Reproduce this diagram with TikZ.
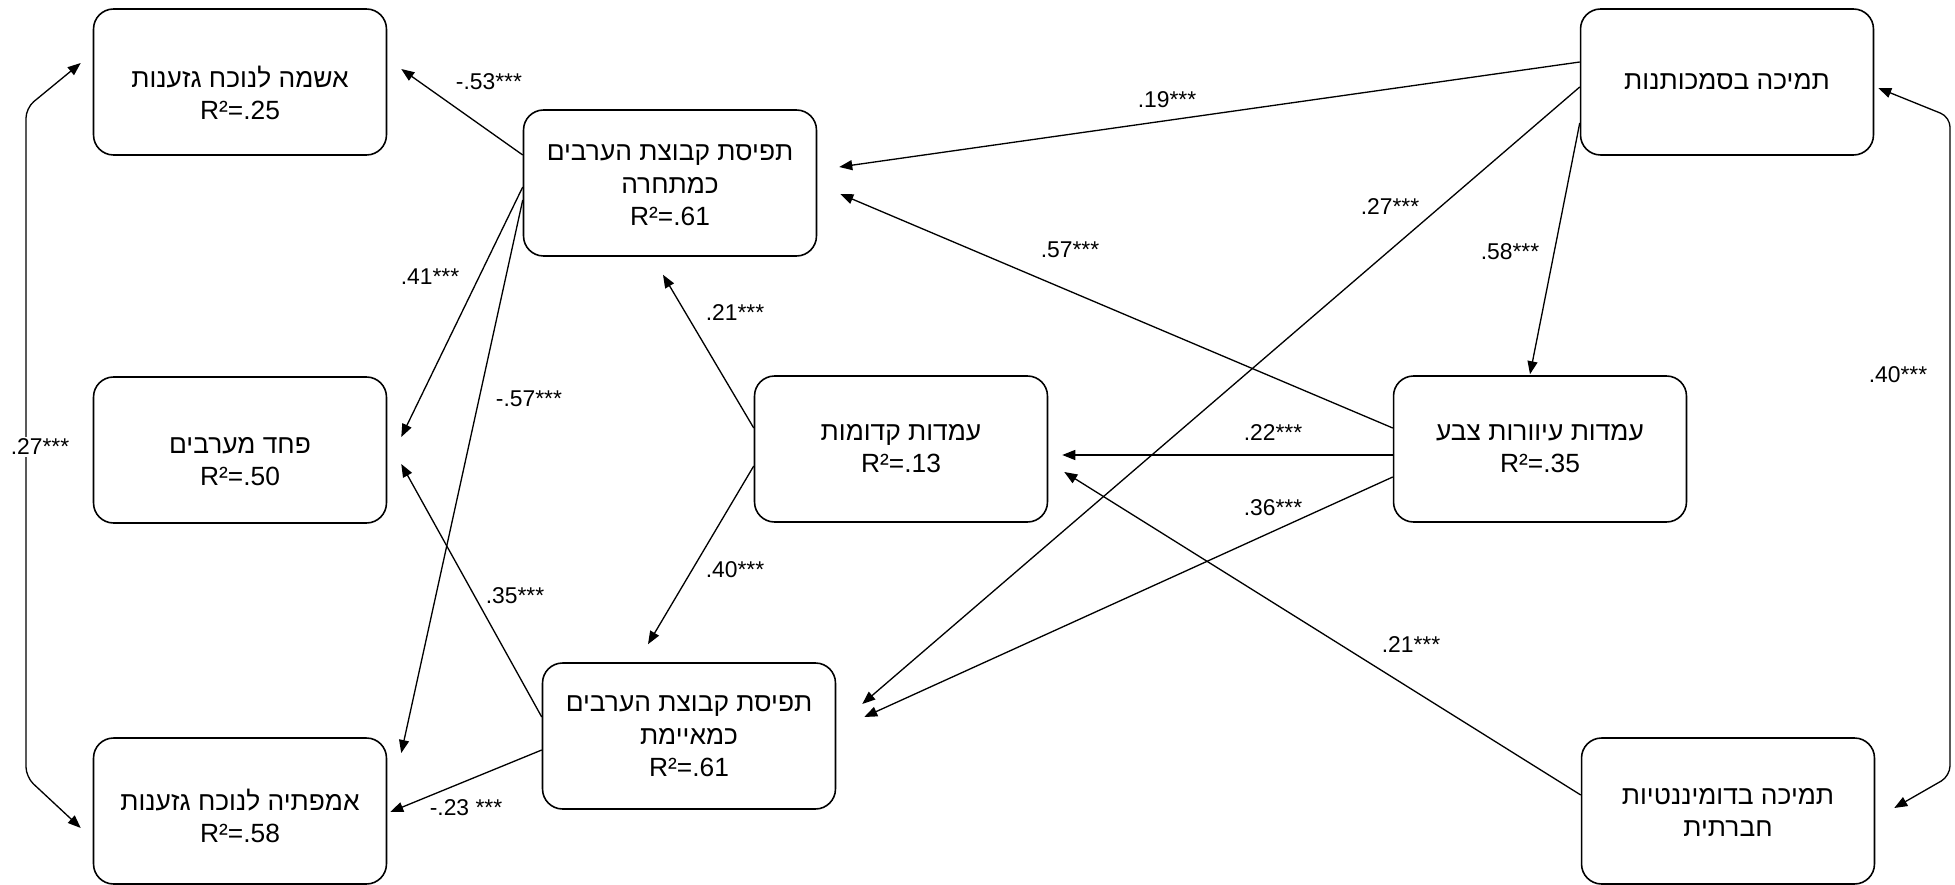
\documentclass[tikz,border=0pt]{standalone}
\usepackage{fontspec}
\setmainfont{Liberation Sans}
\newfontfamily\hebfont[Script=Hebrew]{Liberation Sans}
\TeXXeTstate=1
\newcommand{\heb}[1]{{\hebfont\beginR #1\endR}}
\usetikzlibrary{arrows.meta,calc}

\begin{document}
\begin{tikzpicture}[x=0.02cm,y=-0.02cm,
    var/.style={draw,line width=0.9pt,rounded corners=0.4cm,minimum width=5.86cm,
      minimum height=2.92cm,inner sep=0pt,align=center,font=\fontsize{15}{18.5}\selectfont},
    lastline/.style={text height=#1,text depth=0pt},
    coef/.style={font=\fontsize{13}{15}\selectfont,inner sep=1pt},
    arr/.style={line width=0.75pt,-{Triangle[length=0.26cm,width=0.2cm]}},
    dbl/.style={line width=0.75pt,rounded corners=0.2cm,
      {Triangle[length=0.26cm,width=0.2cm]}-{Triangle[length=0.26cm,width=0.2cm]}}]
      \useasboundingbox (0,0) rectangle (1955,885);
      \draw
        (240,82) node[var,lastline=43pt] (guilt){\heb{אשמה לנוכח גזענות}\\R²=.25}
        (670,183) node[var,lastline=48.8pt] (compete){\heb{תפיסת קבוצת הערבים}\\\heb{כמתחרה}\\R²=.61}
        (240,450) node[var,lastline=40.8pt] (fear){\heb{פחד מערבים}\\R²=.50}
        (901,449) node[var,lastline=27.2pt] (prej){\heb{עמדות קדומות}\\R²=.13}
        (1540,449) node[var,lastline=27.2pt] (cblind){\heb{עמדות עיוורות צבע}\\R²=.35}
        (1727,82) node[var,lastline=8pt] (auth){\heb{תמיכה בסמכותנות}}
        (689,736) node[var,lastline=46.5pt] (threat){\heb{תפיסת קבוצת הערבים}\\\heb{כמאיימת}\\R²=.61}
        (240,811) node[var,lastline=36.3pt] (empathy){\heb{אמפתיה לנוכח גזענות}\\R²=.58}
        (1728,811) node[var,lastline=29.5pt] (sdo){\heb{תמיכה בדומיננטיות}\\\heb{חברתית}};
      \draw
        (489,82) node[coef] (c1){-.53***}
        (430,277) node[coef] (c2){.41***}
        (529,399) node[coef] (c3){-.57***}
        (515,596) node[coef] (c4){.35***}
        (466,808) node[coef] (c5){-.23 ***}
        (735,313) node[coef] (c6){.21***}
        (735,570) node[coef] (c7){.40***}
        (1167,100) node[coef] (c8){.19***}
        (1390,207) node[coef] (c9){.27***}
        (1510,252) node[coef] (c10){.58***}
        (1070,250) node[coef] (c11){.57***}
        (1273,433) node[coef] (c12){.22***}
        (1273,508) node[coef] (c13){.36***}
        (1411,645) node[coef] (c14){.21***}
        (1898,375) node[coef] (c16){.40***};
      \begin{scope}[arr]
        \draw ($(compete.west)+(0,-28)$) to ($(guilt.east)+(14,-13)$);
        \draw ($(compete.west)+(0,4)$) to ($(fear.east)+(14,-13)$);
        \draw ($(compete.west)+(0,17)$) to ($(empathy.east)+(14,-58)$);
        \draw ($(threat.west)+(0,-19)$) to ($(fear.east)+(14,14)$);
        \draw ($(threat.west)+(0,14)$) to ($(empathy.east)+(3,1)$);
        \draw ($(prej.west)+(0,-21)$) to ($(compete.south)+(-7,18)$);
        \draw ($(prej.west)+(0,17)$) to ($(threat.north)+(-41,-18)$);
        \draw ($(auth.west)+(0,-20)$) to ($(compete.east)+(22,-16)$);
        \draw ($(auth.west)+(0,5)$) to ($(threat.east)+(26,-32)$);
        \draw ($(auth.west)+(0,41)$) to ($(cblind.north)+(-10,-1)$);
        \draw ($(cblind.west)+(0,-21)$) to ($(compete.east)+(23,11)$);
        \draw ($(cblind.west)+(0,6)$) to ($(prej.east)+(14,6)$);
        \draw ($(cblind.west)+(0,28)$) to ($(threat.east)+(28,-19)$);
        \draw ($(sdo.west)+(0,-16)$) to ($(prej.east)+(16,23)$);
      \end{scope}
      \begin{scope}[dbl]
        \draw ($(guilt.west)+(-12,-19)$) -- (26,108) -- (26,777) -- ($(empathy.west)+(-12,17)$);
        \draw ($(auth.east)+(4,6)$) -- (1950,117) -- (1950,776) -- ($(sdo.east)+(19,-3)$);
      \end{scope}
      \node[coef,fill=white] (c15) at (40,447) {.27***};
    \end{tikzpicture}
\end{document}
